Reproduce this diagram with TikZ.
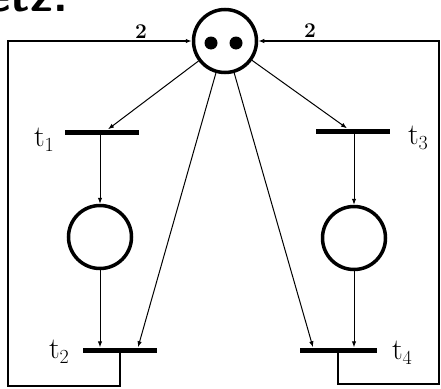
\documentclass[tikz,border=0pt]{standalone}
\usepackage{fontspec}
\usepackage{tikz}
\usetikzlibrary{arrows.meta}
\newcommand{\tlabel}[1]{t\raisebox{-0.35ex}{\fontsize{20}{22}\selectfont #1}}
\begin{document}
\begin{tikzpicture}[x=1pt, y=-1pt, >={Latex[length=6pt,width=4.5pt]},
  place/.style={draw, circle, line width=3.5pt, minimum size=63pt, inner sep=0pt},
  transition/.style={fill, rectangle, minimum width=74pt, minimum height=5pt, inner sep=0pt},
  token/.style={fill, circle, minimum size=13pt, inner sep=0pt},
  flow/.style={->, line width=1pt},
  feedback/.style={->, line width=1.4pt},
  lbl/.style={font=\fontsize{30}{32}\selectfont, inner sep=0pt},
  weight/.style={font=\bfseries\fontsize{21}{23}\selectfont, inner sep=0pt}]
\clip (0,0) rectangle (441,388);
\node[font=\sffamily\bfseries\fontsize{48}{50}\selectfont, anchor=base east, inner sep=0pt] (title) at (68,12) {Netz:};
\node[place] (p0) at (225,41) {};
\node[token] (k1) at (211,43) {};
\node[token] (k2) at (236,43) {};
\node[place] (p1) at (100,237) {};
\node[place] (p2) at (354,238) {};
\node[transition] (t1) at (102,132) {};
\node[transition] (t2) at (120,350) {};
\node[transition] (t3) at (353,131) {};
\node[transition, minimum width=77pt] (t4) at (338,350) {};
\node[lbl] (l1) at (44,140) {\tlabel{1}};
\node[lbl] (l2) at (59,352) {\tlabel{2}};
\node[lbl] (l3) at (418,138) {\tlabel{3}};
\node[lbl] (l4) at (402,353) {\tlabel{4}};
\node[weight] (w1) at (141,32) {2};
\node[weight] (w2) at (310,31) {2};
\coordinate (c1) at (8,386);
\coordinate (c2) at (8,41);
\coordinate (c3) at (439,384);
\coordinate (c4) at (439,41);
\draw[flow] (p0) -- ([xshift=6pt]t1.north);
\draw[flow] (p0) -- ([xshift=18pt]t2.north);
\draw[flow] (p0) -- ([xshift=-6pt]t3.north);
\draw[flow] (p0) -- ([xshift=-25pt]t4.north);
\draw[flow] (t1.south -| p1) -- (p1);
\draw[flow] (p1) -- (t2.north -| p1);
\draw[flow] (t3.south -| p2) -- (p2);
\draw[flow] (p2) -- (t4.north -| p2);
\draw[feedback] (t2.south) |- (c1) -- (c2) -- (p0);
\draw[feedback] (t4.south) |- (c3) -- (c4) -- (p0);
\end{tikzpicture}
\end{document}
